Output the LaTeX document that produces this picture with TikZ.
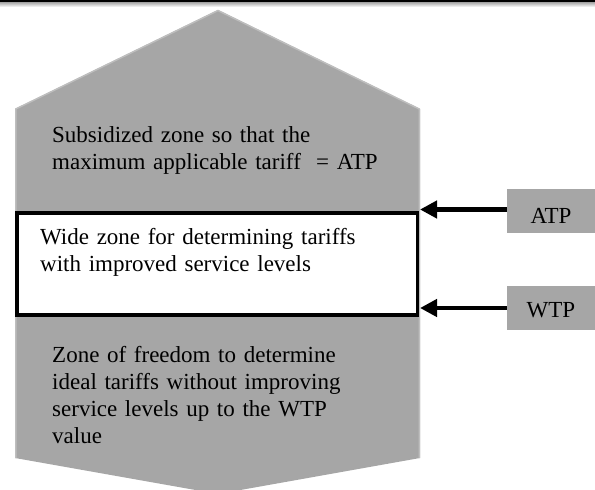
\documentclass[tikz,border=0pt]{standalone}
\usepackage{fontspec}
\setmainfont{Liberation Serif}
\usetikzlibrary{arrows.meta}
\definecolor{zonegray}{HTML}{A6A6A6}
\definecolor{edgegray}{HTML}{BEBEBE}
\begin{document}
\begin{tikzpicture}[x=1pt,y=-1pt,
  zonetext/.style={anchor=base west, inner sep=0pt, text width=380pt, align=left,
    font=\fontsize{23}{27}\selectfont},
  tagbox/.style={fill=zonegray, draw=none, minimum width=88pt, minimum height=44pt, inner sep=0pt},
  tagtext/.style={anchor=base, inner sep=0pt, font=\fontsize{23}{26}\selectfont},
  levelarrow/.style={line width=4.5pt, -{Triangle[length=17pt,width=17pt]}}
]
\useasboundingbox (0,0) rectangle (595,490);
% top rule with soft shadow
\fill[black] (0,0) rectangle (595,2.2);
\shade[top color=black!35, bottom color=white] (0,2.2) rectangle (595,7);
% main zone shape
\fill[zonegray] (218,10) -- (420,109) -- (420,458) -- (218,494) -- (15,458) -- (15,109) -- cycle;
\draw[edgegray, line width=1.5pt] (15.75,458) -- (15.75,109) -- (218,10.5) -- (419.25,109) -- (419.25,458);
% white middle zone
\draw[black, line width=3.5pt, fill=white] (16.75,212.75) rectangle (417.25,314.75);
% texts
\node[zonetext] (subs) at (52,142) {Subsidized zone so that the\\maximum applicable tariff \ = ATP};
\node[zonetext] (wide) at (40,244) {Wide zone for determining tariffs\\with improved service levels};
\node[zonetext] (free) at (52,362) {Zone of freedom to determine\\ideal tariffs without improving\\service levels up to the WTP\\value};
% level tags
\node[tagbox] (atp) at (551,211) {};
\node[tagtext] (atplbl) at (551,223) {ATP};
\node[tagbox] (wtp) at (551,308) {};
\node[tagtext] (wtplbl) at (551,317) {WTP};
\coordinate (atptip) at (420,209.5);
\coordinate (wtptip) at (420,308);
\draw[levelarrow] (atptip -| atp.west) -- (atptip);
\draw[levelarrow] (wtptip -| wtp.west) -- (wtptip);
\end{tikzpicture}
\end{document}
